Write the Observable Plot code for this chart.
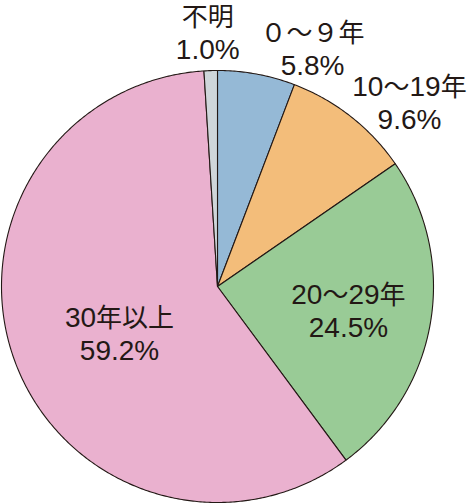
<!DOCTYPE html>
<html><head><meta charset="utf-8">
<script src="https://cdn.jsdelivr.net/npm/d3@7"></script>
<script src="https://cdn.jsdelivr.net/npm/@observablehq/plot@0.6"></script>
<style>body{margin:0;background:#fff}</style>
</head><body><div id="chart"></div>
<script>
const categories = ["０～９年", "10～19年", "20～29年", "30年以上", "不明"];
const percents = [5.8, 9.6, 24.5, 59.2, 1.0];
const colors = ["#95b9d6", "#f3bd7a", "#99cb96", "#eab1cf", "#cfd6da"];
const labelRadius = [1.189, 1.233, 0.616, 0.502, 1.18];
const labelNudge = [11.3, 8, 0.8, -5.3, -0.4];

const total = d3.sum(percents);
let cum = 0;
const slices = categories.map((c, i) => {
  const a0 = cum / total * 2 * Math.PI;
  cum += percents[i];
  const a1 = cum / total * 2 * Math.PI;
  return {c, a0, a1, v: percents[i], i};
});
const pts = [];
for (const s of slices) {
  pts.push({c: s.c, x: 0, y: 0});
  const n = Math.max(2, Math.ceil((s.a1 - s.a0) / (Math.PI / 360)));
  for (let k = 0; k <= n; k++) {
    const a = s.a0 + (s.a1 - s.a0) * k / n;
    pts.push({c: s.c, x: Math.sin(a), y: Math.cos(a)});
  }
  pts.push({c: s.c, x: 0, y: 0});
}
const labels = slices.map(s => {
  const a = (s.a0 + s.a1) / 2 + labelNudge[s.i] * Math.PI / 180;
  return {x: labelRadius[s.i] * Math.sin(a), y: labelRadius[s.i] * Math.cos(a),
          text: `${s.c}\n${s.v.toFixed(1)}%`};
});

const chart = Plot.plot({
  width: 470, height: 504, margin: 0,
  style: {fontFamily: "'Liberation Sans', 'Noto Sans CJK JP', sans-serif", background: "#fff"},
  x: {domain: [-1, 1], range: [1, 433], axis: null},
  y: {domain: [-1, 1], range: [502, 70], axis: null},
  color: {domain: categories, range: colors},
  marks: [
    Plot.line(pts, {x: "x", y: "y", z: "c", fill: "c", stroke: "#231815", strokeWidth: 1.1, strokeLinejoin: "round"}),
    Plot.text(labels, {x: "x", y: "y", text: "text", fontSize: 28, lineHeight: 1.18, fill: "#231815"})
  ]
});

// typographic styling: CJK glyphs in a slightly smaller Japanese font
const cjkRe = /[\u3000-\u30ff\u3400-\u9fff\uff00-\uffef]/;
const runRe = /[\u3000-\u30ff\u3400-\u9fff\uff00-\uffef]+|[^\u3000-\u30ff\u3400-\u9fff\uff00-\uffef]+/g;
chart.querySelectorAll("text tspan").forEach(t => {
  const s = t.textContent;
  t.textContent = "";
  for (const r of s.match(runRe) || []) {
    const sp = document.createElementNS("http://www.w3.org/2000/svg", "tspan");
    sp.textContent = r;
    if (cjkRe.test(r)) {
      sp.setAttribute("font-size", 26);
      sp.setAttribute("font-family", "'Noto Sans CJK JP'");
    } else {
      sp.setAttribute("font-family", "'Liberation Sans'");
    }
    t.appendChild(sp);
  }
});
document.getElementById("chart").appendChild(chart);
</script></body></html>
